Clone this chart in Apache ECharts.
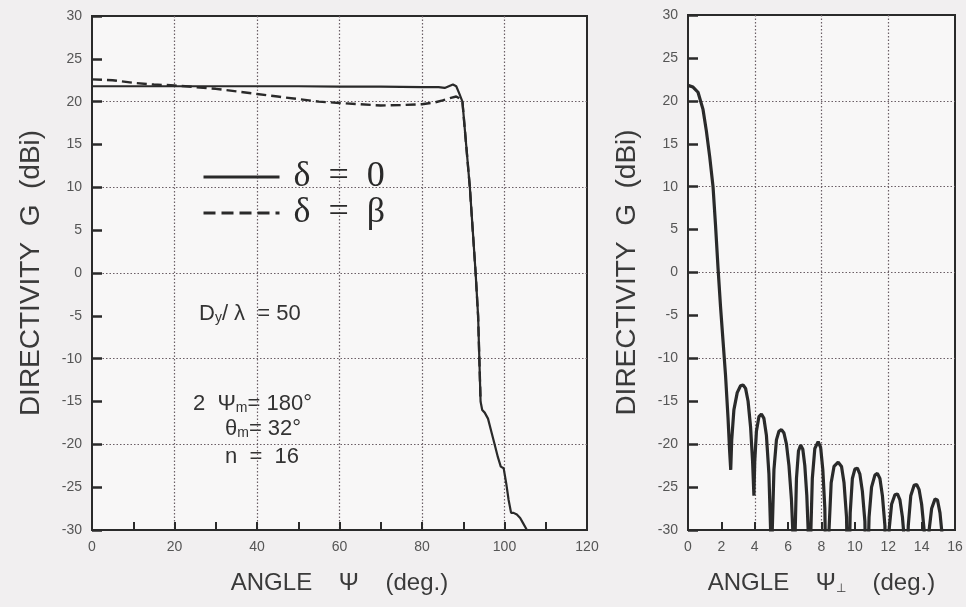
<!DOCTYPE html>
<html>
<head>
<meta charset="utf-8">
<script src="https://cdn.jsdelivr.net/npm/echarts@6/dist/echarts.min.js"></script>
<style>
html,body{margin:0;padding:0;background:#f1eff0;}
#chart{width:966px;height:607px;}
</style>
</head>
<body>
<div id="chart"></div>
<script>
// ---- Left panel: directivity vs angle Psi ----
const leftXTicks = [0, 20, 40, 60, 80, 100, 120];
const solidX = [0, 10, 20, 30, 40, 50, 60, 70, 80, 84, 85.5, 86.5, 87.5, 88.3, 89, 89.8, 90.7, 91.6, 92.3, 93, 93.6, 93.9, 94.2, 94.6, 95.2, 96, 96.8, 97.6, 98.4, 99.1, 99.8, 100.4, 101, 101.6, 102.2, 103, 103.8, 104.5, 105.2, 105.9];
const solidG = [21.8, 21.8, 21.8, 21.8, 21.8, 21.8, 21.75, 21.75, 21.7, 21.7, 21.6, 21.8, 22.0, 21.8, 21.0, 20.0, 15.0, 10.0, 5.0, 0.0, -5.0, -10.0, -15.0, -16.0, -16.3, -17.0, -18.5, -20.0, -21.5, -22.6, -22.8, -24.5, -26.5, -28.0, -28.0, -28.2, -28.6, -29.2, -29.8, -30.5];
const dashX = [0, 5, 10, 15, 20, 25, 30, 35, 40, 45, 50, 55, 60, 65, 70, 75, 80, 83, 85, 87, 88.3, 89, 89.8, 90.7, 91.6, 92.3, 93, 93.6, 93.9, 94.2];
const dashG = [22.6, 22.5, 22.2, 22.0, 21.9, 21.7, 21.5, 21.2, 20.9, 20.6, 20.3, 20.0, 19.85, 19.7, 19.55, 19.6, 19.7, 19.9, 20.15, 20.45, 20.6, 20.4, 20.0, 15.0, 10.0, 5.0, 0.0, -5.0, -10.0, -15.0];

// ---- Right panel: directivity vs angle Psi-perp ----
const rightX = [0, 0.3, 0.6, 0.9, 1.1, 1.3, 1.5, 1.65, 1.8, 1.95, 2.1, 2.25, 2.4, 2.5, 2.56,
  2.62, 2.75, 2.95, 3.15, 3.3, 3.45, 3.6, 3.75, 3.87, 3.95,
  4.0, 4.1, 4.25, 4.4, 4.55, 4.7, 4.85, 4.95, 5.0,
  5.05, 5.15, 5.3, 5.45, 5.6, 5.75, 5.9, 6.05, 6.2, 6.3, 6.35,
  6.4, 6.5, 6.62, 6.75, 6.88, 7.0, 7.12, 7.22, 7.3,
  7.35, 7.45, 7.6, 7.8, 7.95, 8.08, 8.2, 8.3,
  8.4, 8.45, 8.58, 8.75, 9.0, 9.2, 9.35, 9.5, 9.6,
  9.65, 9.72, 9.85, 10.0, 10.15, 10.3, 10.45, 10.6, 10.7,
  10.75, 10.85, 11.0, 11.2, 11.35, 11.5, 11.65, 11.8, 11.9,
  11.95, 12.05, 12.2, 12.4, 12.55, 12.7, 12.85, 13.0, 13.05,
  13.1, 13.2, 13.35, 13.55, 13.7, 13.85, 14.0, 14.15, 14.25,
  14.35, 14.45, 14.6, 14.8, 14.95, 15.1, 15.25, 15.3];
const rightG = [21.8, 21.6, 21.0, 19.0, 16.5, 13.5, 10.0, 5.5, 0.5, -4, -8, -12, -17, -21, -23,
  -19.5, -16, -14, -13.2, -13.1, -13.5, -15, -18, -22, -26,
  -22, -18.5, -16.8, -16.5, -17, -19, -23.5, -30, -40,
  -30, -23, -19.5, -18.5, -18.3, -18.7, -20, -22.5, -26.5, -31, -40,
  -32, -24, -20.8, -20.1, -20.6, -22.5, -26, -31, -40,
  -31, -24, -20.5, -19.7, -20.4, -23, -27.5, -40,
  -40, -30, -24.5, -22.6, -22.1, -22.6, -24.5, -28.5, -40,
  -40, -28, -24, -22.9, -22.8, -23.5, -25.5, -29, -40,
  -40, -28.5, -25, -23.6, -23.4, -24, -26, -29.5, -40,
  -40, -30, -27, -25.9, -25.8, -26.5, -28.5, -32, -40,
  -40, -29.5, -26, -24.8, -24.7, -25.3, -27, -30, -40,
  -40, -30, -27.5, -26.4, -26.5, -28, -31, -40];

const seriesNames = ['δ  =  0', 'δ  =  β'];

function zip(xs, ys) { return xs.map((x, i) => [x, ys[i]]); }

const ink = '#2a2a2a';
const labelColor = '#555555';
const gridDot = { type: [1.5, 2], color: '#6b5f66', width: 1.2 };
const sans = 'Liberation Sans, Arial, sans-serif';
const titleColor = '#3a3a3a';

function mainX(grid, min, max, interval, fmt, name) {
  return {
    type: 'value', gridIndex: grid, min: min, max: max, interval: interval,
    axisLine: { show: false, onZero: false },
    axisTick: { show: true, inside: true, length: 8, lineStyle: { color: ink, width: 2 } },
    axisLabel: { color: labelColor, fontSize: 14, fontFamily: sans, margin: 10, formatter: fmt },
    splitLine: { show: false },
    name: name, nameLocation: 'middle', nameGap: 41,
    nameTextStyle: { color: titleColor, fontSize: 24, fontFamily: sans,
      rich: { a: { fontSize: 24, fontFamily: sans, color: titleColor },
              s: { fontSize: 12, fontFamily: sans, color: titleColor, verticalAlign: 'bottom', padding: [10, 0, 0, 0] } } }
  };
}
function splitX(grid, min, max, interval) {
  return {
    type: 'value', gridIndex: grid, min: min, max: max, interval: interval,
    axisLine: { show: false, onZero: false }, axisTick: { show: false }, axisLabel: { show: false },
    splitLine: { show: true, showMinLine: false, showMaxLine: false, lineStyle: gridDot }
  };
}
function mainY(grid) {
  return {
    type: 'value', gridIndex: grid, min: -30, max: 30, interval: 5,
    axisLine: { show: false, onZero: false },
    axisTick: { show: true, inside: true, length: 10, lineStyle: { color: ink, width: 2.5 } },
    axisLabel: { color: labelColor, fontSize: 14, fontFamily: sans, margin: 10 },
    splitLine: { show: false },
    name: 'DIRECTIVITY  G  (dBi)', nameLocation: 'middle', nameRotate: 90, nameGap: 47,
    nameTextStyle: { color: titleColor, fontSize: 28, fontFamily: sans }
  };
}
function splitY(grid) {
  return {
    type: 'value', gridIndex: grid, min: -30, max: 30, interval: 10,
    axisLine: { show: false, onZero: false }, axisTick: { show: false }, axisLabel: { show: false },
    splitLine: { show: true, showMinLine: false, showMaxLine: false, lineStyle: gridDot }
  };
}

const annoRich = {
  a: { fontSize: 22, fontFamily: sans, fill: '#333' },
  s: { fontSize: 14, fontFamily: sans, fill: '#333', padding: [9, 0, 0, 0] }
};

const chart = echarts.init(document.getElementById('chart'), null, { renderer: 'canvas' });
chart.setOption({
  backgroundColor: '#f1eff0',
  animation: false,
  grid: [
    { left: 92, top: 16, width: 495, height: 514, show: true, borderColor: ink, borderWidth: 2, backgroundColor: '#f8f7f7' },
    { left: 688, top: 15, width: 267, height: 515, show: true, borderColor: ink, borderWidth: 2, backgroundColor: '#f8f7f7' }
  ],
  xAxis: [
    mainX(0, 0, 120, 10, v => (leftXTicks.indexOf(v) >= 0 ? String(v) : ''), 'ANGLE    Ψ    (deg.)'),
    splitX(0, 0, 120, 20),
    mainX(1, 0, 16, 2, v => String(v), '{a|ANGLE    Ψ}{s|⊥}{a|    (deg.)}'),
    splitX(1, 0, 16, 4)
  ],
  yAxis: [mainY(0), splitY(0), mainY(1), splitY(1)],
  legend: {
    data: [
      { name: seriesNames[0], lineStyle: { width: 3, type: 'solid' } },
      { name: seriesNames[1], lineStyle: { width: 3, type: [12, 6] } }
    ],
    orient: 'vertical', left: 197, top: 154,
    itemWidth: 76, itemHeight: 36, itemGap: 0,
    itemStyle: { opacity: 0 },
    lineStyle: { width: 3 },
    textStyle: { fontSize: 36, lineHeight: 36, fontFamily: 'Liberation Serif, Times New Roman, serif', color: '#2a2a2a', padding: [0, 0, 0, 9] },
    selectedMode: false
  },
  graphic: [
    { type: 'text', left: 199, top: 303, style: { text: '{a|D}{s|y}{a|/ λ  = 50}', rich: annoRich } },
    { type: 'text', left: 193, top: 393, style: { text: '{a|2  Ψ}{s|m}{a|= 180°}', rich: annoRich } },
    { type: 'text', left: 225, top: 418, style: { text: '{a|θ}{s|m}{a|= 32°}', rich: annoRich } },
    { type: 'text', left: 225, top: 446, style: { text: 'n  =  16', fontSize: 22, fontFamily: sans, fill: '#333' } }
  ],
  series: [
    { name: seriesNames[0], type: 'line', xAxisIndex: 0, yAxisIndex: 0, data: zip(solidX, solidG), symbol: 'none', clip: true,
      lineStyle: { color: ink, width: 2.2, type: 'solid' }, itemStyle: { color: ink } },
    { name: seriesNames[1], type: 'line', xAxisIndex: 0, yAxisIndex: 0, data: zip(dashX, dashG), symbol: 'none', clip: true,
      lineStyle: { color: ink, width: 2.4, type: [10, 5] }, itemStyle: { color: ink } },
    { name: 'perp', type: 'line', xAxisIndex: 2, yAxisIndex: 2, data: zip(rightX, rightG), symbol: 'none', clip: true,
      lineStyle: { color: ink, width: 3.2 }, itemStyle: { color: ink } }
  ]
});
</script>
</body>
</html>
